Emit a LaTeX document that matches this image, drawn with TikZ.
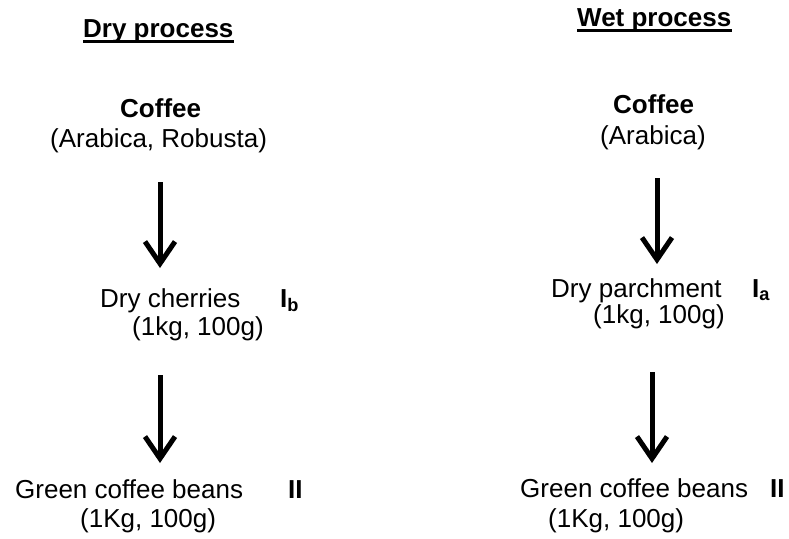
\documentclass[tikz,border=0pt]{standalone}
\usepackage{fontspec}
\setmainfont{Liberation Sans}
\usetikzlibrary{arrows.meta}
\begin{document}
\begin{tikzpicture}[x=1pt,y=-1pt,
  txt/.style={anchor=base west,inner sep=0pt,font=\fontsize{26}{30}\selectfont},
  btxt/.style={txt,font=\fontsize{26}{30}\selectfont\bfseries},
  flow/.style={line width=5pt,-{Straight Barb[length=22pt,width=30pt]}},
  uline/.style={line width=2.5pt}]
\useasboundingbox (0,0) rectangle (789,538);
% headers
\node[btxt] (dryh) at (83,37) {Dry process};
\node[btxt] (weth) at (577,26) {Wet process};
\draw[uline] ([yshift=-4.5pt]dryh.base west) -- ([yshift=-4.5pt]dryh.base east);
\draw[uline] ([yshift=-4.5pt]weth.base west) -- ([yshift=-4.5pt]weth.base east);
% dry process
\node[btxt] (coffL) at (120,117) {Coffee};
\node[txt] (varL) at (50,147) {(Arabica, Robusta)};
\node[txt] (cher) at (100,307) {Dry cherries};
\node[btxt] (ib) at (280,307) {I\textsubscript{b}};
\node[txt] (cherw) at (132,335) {(1kg, 100g)};
\node[txt] (gcL) at (15,498) {Green coffee beans};
\node[btxt] (iiL) at (288,498) {II};
\node[txt] (gcLw) at (80,527) {(1Kg, 100g)};
% wet process
\node[btxt] (coffR) at (613,113) {Coffee};
\node[txt] (varR) at (600,144) {(Arabica)};
\node[txt] (parch) at (551,297) {Dry parchment};
\node[btxt] (ia) at (752,297) {I\textsubscript{a}};
\node[txt] (parchw) at (593,323) {(1kg, 100g)};
\node[txt] (gcR) at (520,497) {Green coffee beans};
\node[btxt] (iiR) at (770,497) {II};
\node[txt] (gcRw) at (548,527) {(1Kg, 100g)};
% arrow ends
\coordinate (a1s) at (160,182); \coordinate (a1e) at (160,268);
\coordinate (a2s) at (160,375); \coordinate (a2e) at (160,463);
\coordinate (a3s) at (657,178); \coordinate (a3e) at (657,264);
\coordinate (a4s) at (652,372); \coordinate (a4e) at (652,463);
\draw[flow] (a1s) -- (a1e);
\draw[flow] (a2s) -- (a2e);
\draw[flow] (a3s) -- (a3e);
\draw[flow] (a4s) -- (a4e);
\end{tikzpicture}
\end{document}
